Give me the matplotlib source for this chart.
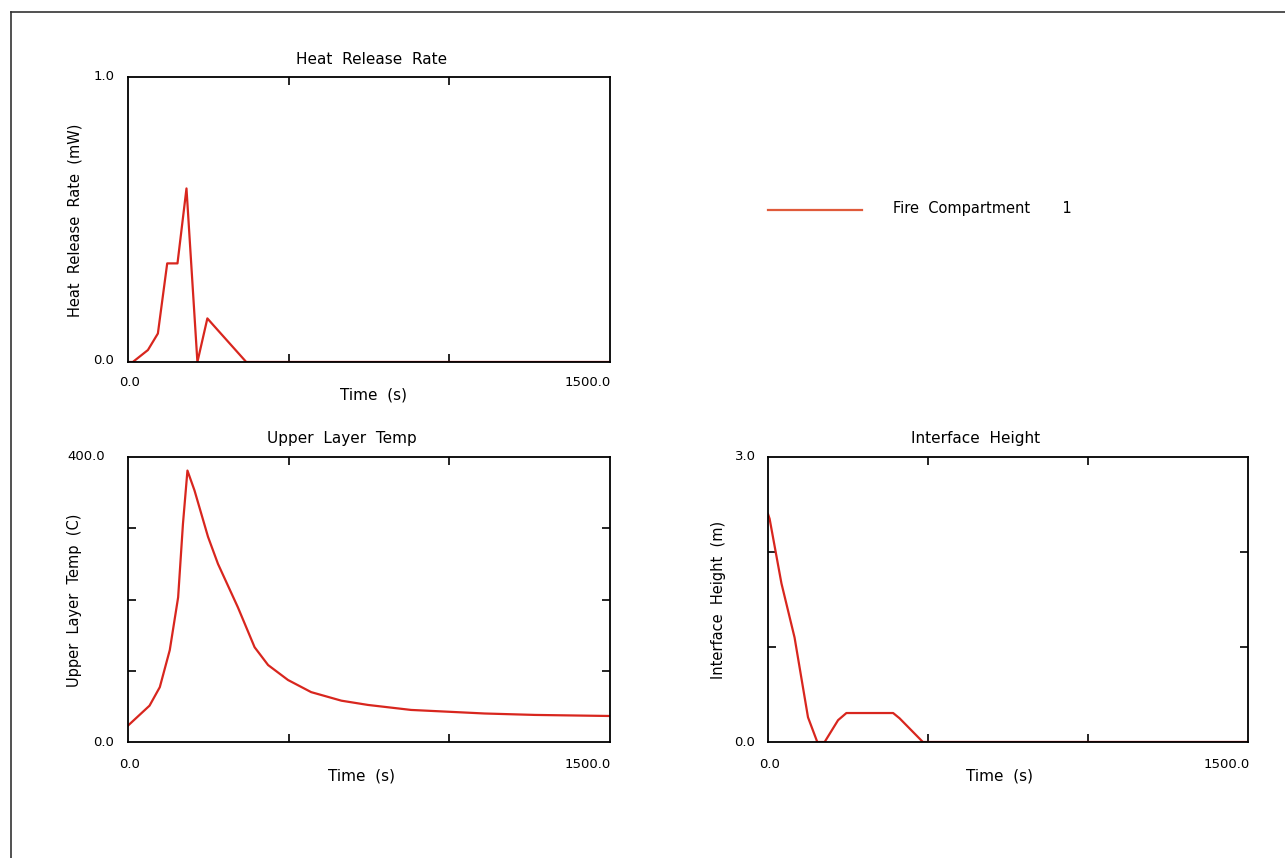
import matplotlib
matplotlib.use('Agg')
import matplotlib.pyplot as plt
import numpy as np

# data -----------------------------------------------------------------------
hrr_t = [0, 15, 62, 93, 122, 154, 182, 216, 247, 265, 368, 1500]
hrr_v = [0.0, 0.0, 0.042, 0.10, 0.346, 0.346, 0.609, 0.0, 0.153, 0.13, 0.0, 0.0]

temp_t = [0, 67, 99, 130, 156, 171, 185, 207, 249, 280, 342, 394, 436, 498, 570,
          664, 747, 881, 996, 1110, 1266, 1500]
temp_v = [23, 51, 77, 129, 203, 306, 381, 353, 288, 250, 189, 133, 108, 87, 70,
          58, 52, 45, 42.5, 40, 38, 36.5]

hgt_t = [0, 5, 42, 83, 125, 154, 177, 219, 245, 391, 411, 484, 1500]
hgt_v = [2.40, 2.35, 1.67, 1.10, 0.26, 0.0, 0.0, 0.23, 0.305, 0.305, 0.25, 0.0, 0.0]

T_MAX = 1500.0
LINE_COLOR = '#d8261e'
FONT = 'DejaVu Sans'

W, H = 1285, 858
fig = plt.figure(figsize=(W / 100, H / 100), dpi=100)


def px(x, y):
    # pixel coords (top-left origin) -> figure fraction
    return x / W, 1 - y / H


def make_axes(x0, y0, x1, y1):
    l, t = px(x0, y0)
    r, b = px(x1, y1)
    return fig.add_axes([l, b, r - l, t - b])


def style(ax, ymax, yticks):
    ax.set_xlim(0, T_MAX)
    ax.set_ylim(0, ymax)
    ax.set_xticks([500, 1000])
    ax.set_yticks(yticks)
    ax.tick_params(direction='in', length=6, width=1.2, top=True, right=True,
                   labelbottom=False, labelleft=False)
    for s in ax.spines.values():
        s.set_linewidth(1.3)


def label(x, y, s, size=10, **kw):
    fx, fy = px(x, y)
    fig.text(fx, fy, s, fontsize=size, family=FONT, ha='center', va='center', **kw)


# Heat release rate -----------------------------------------------------------
ax1 = make_axes(128, 77, 610, 362)
ax1.plot(hrr_t, hrr_v, color=LINE_COLOR, lw=1.6)
style(ax1, 1.0, [])
label(372, 59, 'Heat  Release  Rate', 11)
label(104, 77, '1.0', 9.5)
label(104, 361, '0.0', 9.5)
label(130, 383, '0.0', 9.5)
label(588, 383, '1500.0', 9.5)
label(374, 395, 'Time  (s)', 11)
label(75, 220, 'Heat  Release  Rate  (mW)', 10.5, rotation=90)

# Upper layer temp ------------------------------------------------------------
ax2 = make_axes(128, 457, 610, 742)
ax2.plot(temp_t, temp_v, color=LINE_COLOR, lw=1.6)
style(ax2, 400.0, [100, 200, 300])
label(342, 438, 'Upper  Layer  Temp', 11)
label(86, 457, '400.0', 9.5)
label(104, 742, '0.0', 9.5)
label(130, 765, '0.0', 9.5)
label(588, 765, '1500.0', 9.5)
label(362, 776, 'Time  (s)', 11)
label(75, 600, 'Upper  Layer  Temp  (C)', 10.5, rotation=90)

# Interface height ------------------------------------------------------------
ax3 = make_axes(768, 457, 1248, 742)
ax3.plot(hgt_t, hgt_v, color=LINE_COLOR, lw=1.6)
style(ax3, 3.0, [1, 2])
label(976, 438, 'Interface  Height', 11)
label(745, 457, '3.0', 9.5)
label(745, 742, '0.0', 9.5)
label(770, 765, '0.0', 9.5)
label(1227, 765, '1500.0', 9.5)
label(1000, 776, 'Time  (s)', 11)
label(718, 600, 'Interface  Height  (m)', 10.5, rotation=90)

# legend ----------------------------------------------------------------------
lx0, ly = px(768, 210)
lx1, _ = px(862, 210)
fig.add_artist(plt.Line2D([lx0, lx1], [ly, ly], color='#e05a3a', lw=1.6))
fx, fy = px(893, 209)
fig.text(fx, fy, 'Fire  Compartment       1', fontsize=10.5, family=FONT,
         ha='left', va='center')

# frame lines on top and left edge ---------------------------------------------
bx, by = px(11, 12)
fig.add_artist(plt.Line2D([bx, bx], [0, by], color='#333333', lw=1.2))
fig.add_artist(plt.Line2D([bx, 1], [by, by], color='#333333', lw=1.2))

plt.savefig('out.png', dpi=100)
